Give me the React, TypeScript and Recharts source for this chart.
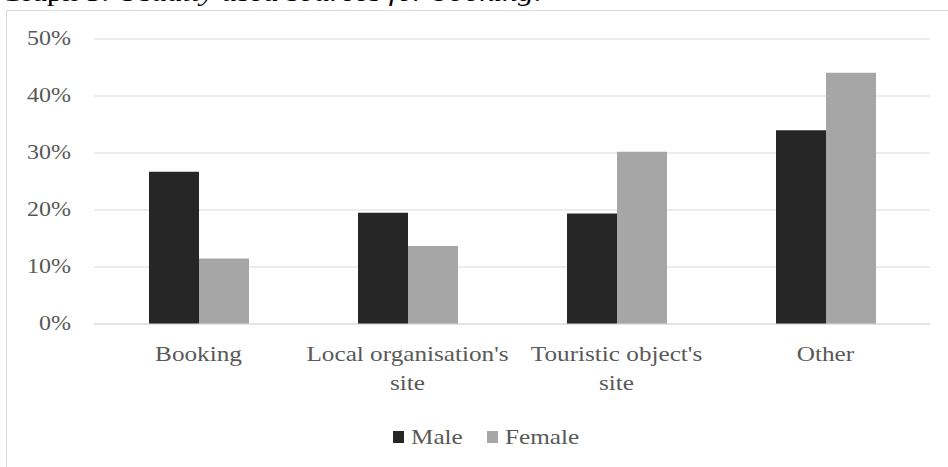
import { Bar, BarChart, CartesianGrid, XAxis, YAxis } from "recharts"

const categories = [
  "Booking",
  "Local organisation's site",
  "Touristic object's site",
  "Other",
]
const maleShare = [26.7, 19.5, 19.4, 34.0]
const femaleShare = [11.5, 13.7, 30.2, 44.1]
const yTicks = [0, 10, 20, 30, 40, 50]

const series = [
  { key: "male", name: "Male", color: "#262626" },
  { key: "female", name: "Female", color: "#a6a6a6" },
]

const dataset = categories.map((c, i) => ({
  source: c,
  male: maleShare[i],
  female: femaleShare[i],
}))

const SERIF = "Liberation Serif, DejaVu Serif, serif"
const LABEL = "#595959"
const GRID = "#d9d9d9"
// the whole figure is printed slightly wider than tall
const STRETCH = 1.2

// long category names wrap before their last word
function splitLabel(text: string) {
  const words = text.split(" ")
  if (text.length <= 12) return [text]
  return [words.slice(0, -1).join(" "), words[words.length - 1]]
}

function CategoryTick({ x, y, payload }: any) {
  const lines = splitLabel(payload.value)
  return (
    <g transform={`translate(${x},${y}) scale(${STRETCH},1)`}>
      {lines.map((line, i) => (
        <text
          key={i}
          x={0}
          y={37 + i * 29}
          textAnchor="middle"
          style={{ fontFamily: SERIF, fontSize: 21 }}
          fill={LABEL}
        >
          {line}
        </text>
      ))}
    </g>
  )
}

function PercentTick({ x, y, payload }: any) {
  return (
    <g transform={`translate(${x - 23},${y}) scale(${STRETCH},1)`}>
      <text
        x={0}
        y={6}
        textAnchor="end"
        style={{ fontFamily: SERIF, fontSize: 20 }}
        fill={LABEL}
      >
        {`${payload.value}%`}
      </text>
    </g>
  )
}

function LegendRow() {
  const starts = [393, 487]
  return (
    <svg
      width={948}
      height={30}
      style={{ position: "absolute", left: 0, top: 423 }}
    >
      {series.map((s, i) => (
        <g key={s.key} transform={`translate(${starts[i]},0)`}>
          <rect x={0} y={8} width={11} height={12} fill={s.color} />
          <g transform={`translate(18,0) scale(${STRETCH},1)`}>
            <text
              x={0}
              y={21}
              style={{ fontFamily: SERIF, fontSize: 21 }}
              fill={LABEL}
            >
              {s.name}
            </text>
          </g>
        </g>
      ))}
    </svg>
  )
}

export default function App() {
  return (
    <div
      style={{
        position: "absolute",
        left: 0,
        top: 0,
        width: 948,
        height: 467,
        overflow: "hidden",
        background: "#fff",
      }}
    >
      <div
        style={{
          position: "absolute",
          left: 0,
          top: -22,
          fontFamily: SERIF,
          fontSize: 26,
          lineHeight: "30px",
          color: "#000",
          whiteSpace: "nowrap",
          transform: `scale(${STRETCH},1)`,
          transformOrigin: "0 0",
        }}
      >
        Graph 5. <i>Usually used sources for booking</i>.
      </div>
      <div
        style={{
          position: "absolute",
          left: 6,
          top: 10,
          width: 960,
          height: 470,
          border: `1px solid ${GRID}`,
          boxSizing: "border-box",
        }}
      />
      <div style={{ position: "absolute", left: 0, top: 0 }}>
        <BarChart
          width={948}
          height={467}
          data={dataset}
          barSize={50}
          barGap={0}
          margin={{ top: 39, right: 18, bottom: 0, left: 0 }}
        >
          <CartesianGrid vertical={false} stroke={GRID} />
          <XAxis
            dataKey="source"
            height={143}
            tickSize={0}
            tickMargin={0}
            tickLine={false}
            axisLine={{ stroke: GRID }}
            tick={<CategoryTick />}
            interval={0}
          />
          <YAxis
            width={94}
            domain={[0, 50]}
            ticks={yTicks}
            tickSize={0}
            tickMargin={0}
            tickLine={false}
            axisLine={false}
            tick={<PercentTick />}
          />
          {series.map((s) => (
            <Bar
              key={s.key}
              dataKey={s.key}
              name={s.name}
              fill={s.color}
              isAnimationActive={false}
            />
          ))}
        </BarChart>
      </div>
      <LegendRow />
    </div>
  )
}
